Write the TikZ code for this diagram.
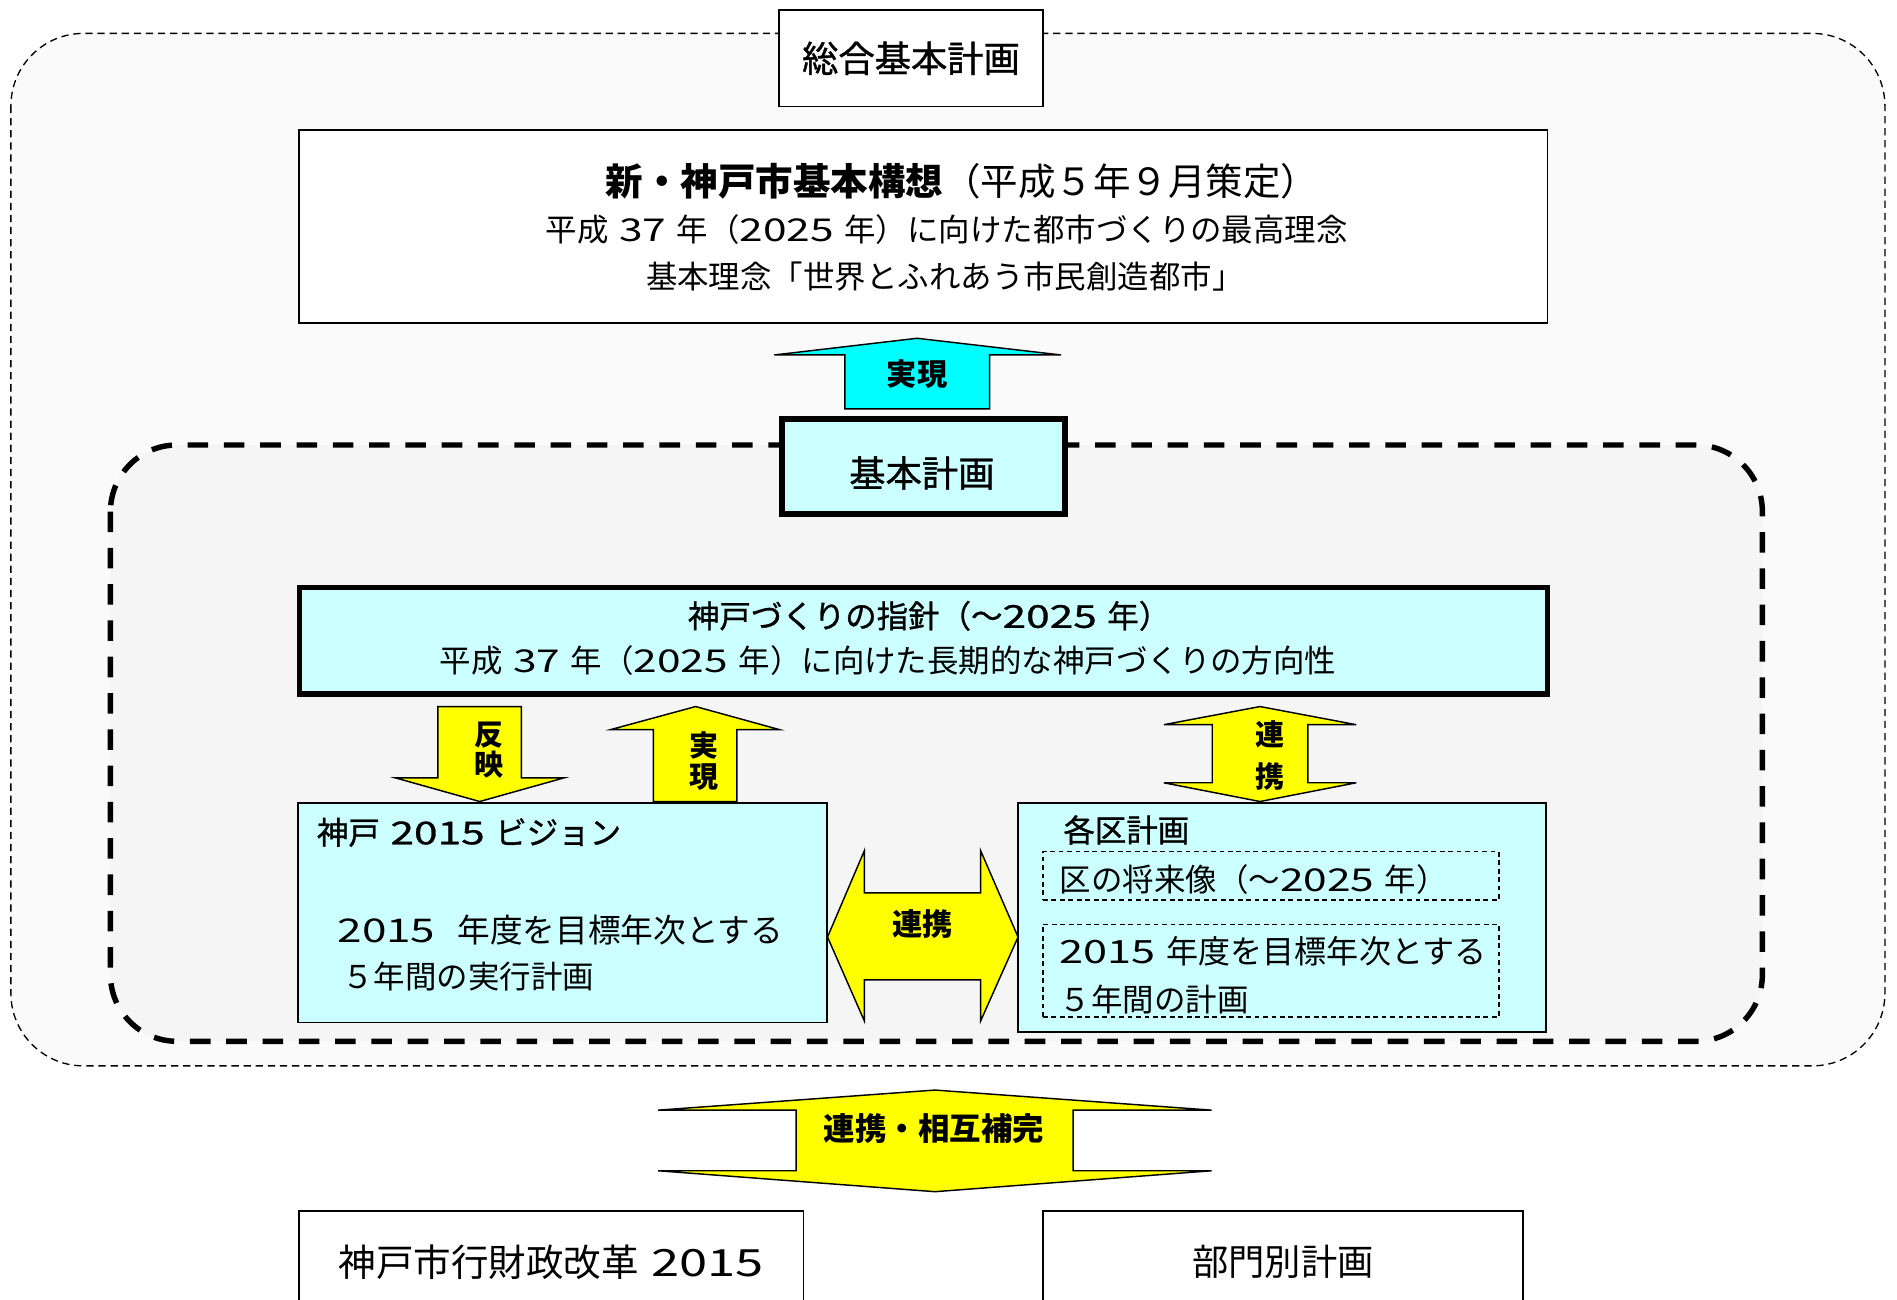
\documentclass[tikz,border=0pt]{standalone}
\usepackage{fontspec}
\setmainfont{Noto Sans CJK JP}[WordSpace=1.5]
\newfontfamily\jpmed{Noto Sans CJK JP}[WordSpace=1.5, FakeBold=1.0]
\newfontfamily\dg{Noto Sans CJK JP}[WordSpace=1.5, FakeStretch=1.35]
\newfontfamily\dgmed{Noto Sans CJK JP}[WordSpace=1.5, FakeStretch=1.35, FakeBold=1.0]
\newcommand\yr[1]{{\dg #1}}
\newcommand\yrmed[1]{{\dgmed #1}}
\definecolor{lightcyan}{HTML}{CCFFFF}
\definecolor{brightcyan}{HTML}{00FFFF}
\definecolor{brightyellow}{HTML}{FFFF00}
\begin{document}
\begin{tikzpicture}[
    x=1pt, y=-1pt,
    every node/.style={inner sep=0pt, outer sep=0pt},
    box/.style={draw=black, line width=1.3pt, fill=white, rectangle},
    cyanbox/.style={draw=black, line width=1.3pt, fill=lightcyan, rectangle},
    thickbox/.style={draw=black, line width=4.5pt, fill=lightcyan, rectangle},
    dashbox/.style={draw=black, line width=1.2pt, dash pattern=on 4pt off 3pt, rectangle},
    bigtext/.style={font=\jpmed\fontsize{30}{36}\selectfont},
    headtext/.style={font=\jpmed\fontsize{26}{30}\selectfont},
    bodytext/.style={font=\fontsize{26}{30}\selectfont},
    tagtext/.style={font=\bfseries\fontsize{25}{25}\selectfont, align=center},
    blockarrow/.style={draw=black, line width=1.2pt, line join=miter, fill=brightyellow}
]
\useasboundingbox (0,0) rectangle (1568,1074.5);

% outer frame
\draw[line width=1.1pt, dash pattern=on 6pt off 4pt, rounded corners=60pt, fill=black!2] (9,27.6) rectangle (1558,881);

\node[box, minimum width=218.6pt, minimum height=79.7pt, bigtext] (sogo) at (753,48.2) {総合基本計画};

\node[box, minimum width=1032pt, minimum height=159.6pt] (koso) at (763,187.2) {};
\node[font=\fontsize{31}{36}\selectfont] (koso1) at (795,150) {{\bfseries 新・神戸市基本構想}（平成５年９月策定）};
\node[bodytext] (koso2) at (782.5,189.5) {平成 \yr{37} 年（\yr{2025} 年）に向けた都市づくりの最高理念};
\node[bodytext] (koso3) at (781,228.7) {基本理念「世界とふれあう市民創造都市」};

\draw[blockarrow, fill=brightcyan] (698.4,338) -- (698.4,293.4) -- (640,293.4) -- (758,279.6) -- (877,293.4) -- (818,293.4) -- (818,338) -- cycle;
\node[tagtext] (jitsugen1) at (758,309) {実現};

% inner frame
\draw[line width=4.5pt, dash pattern=on 17pt off 13pt, rounded corners=55pt, fill=black!4] (91.3,367.8) rectangle (1456.7,860.7);

\node[thickbox, line width=5pt, minimum width=234pt, minimum height=78pt] (kihon) at (763.5,385.5) {};
\node[bigtext] (kihon1) at (762,391) {基本計画};

\node[thickbox, minimum width=1031.5pt, minimum height=88pt] (shishin) at (763.3,529.6) {};
\node[headtext] (shishin1) at (768,509) {神戸づくりの指針（～\yrmed{2025} 年）};
\node[bodytext] (shishin2) at (734,546) {平成 \yr{37} 年（\yr{2025} 年）に向けた長期的な神戸づくりの方向性};

\draw[blockarrow] (362,584) -- (431,584) -- (431,643) -- (466,643) -- (396.5,662.5) -- (327,643) -- (362,643) -- cycle;
\node[tagtext, font=\bfseries\fontsize{24}{25}\selectfont] (hanei) at (404,620) {反\\映};

\draw[blockarrow] (540,662.5) -- (540,603) -- (505,603) -- (575,584) -- (644,603) -- (609,603) -- (609,662.5) -- cycle;
\node[tagtext, font=\bfseries\fontsize{24}{25}\selectfont] (jitsugen2) at (582,629) {実\\現};

\draw[blockarrow] (1041.5,584) -- (1121,599) -- (1081,599) -- (1081,647) -- (1121,647) -- (1041.5,662.5) -- (962,647) -- (1002,647) -- (1002,599) -- (962,599) -- cycle;
\node[tagtext, font=\bfseries\fontsize{24}{35}\selectfont] (renkei1) at (1050,624.5) {連\\携};

\node[cyanbox, minimum width=437pt, minimum height=181.4pt] (vision) at (465,754.3) {};
\node[headtext, anchor=west] (vision1) at (262,688) {神戸 \yrmed{2015} ビジョン};
\node[bodytext, font=\fontsize{27}{30}\selectfont, anchor=west] (vision2) at (279,769) {\yr{2015}\ \ 年度を目標年次とする};
\node[bodytext, anchor=west] (vision3) at (283,807) {５年間の実行計画};

\draw[blockarrow] (684,774.5) -- (714.5,703) -- (714.5,738) -- (810.5,738) -- (810.5,703) -- (841.5,774.5) -- (810.5,844) -- (810.5,810) -- (714.5,810) -- (714.5,844) -- cycle;
\node[tagtext] (renkei2) at (762.6,763.5) {連携};

\node[cyanbox, minimum width=436.6pt, minimum height=189.4pt] (kuku) at (1059.7,758.3) {};
\node[headtext, anchor=west] (kuku1) at (879,686) {各区計画};
\node[dashbox, minimum width=377pt, minimum height=40pt] (shorai) at (1050.5,724) {};
\node[bodytext, anchor=west] (shorai1) at (876,727) {区の将来像（～\yr{2025} 年）};
\node[dashbox, minimum width=377pt, minimum height=76.5pt] (kukeikaku) at (1050.5,802.3) {};
\node[bodytext, font=\fontsize{26.5}{30}\selectfont, anchor=west] (kukeikaku1) at (876,786) {\yr{2015} 年度を目標年次とする};
\node[bodytext, anchor=west] (kukeikaku2) at (876,826) {５年間の計画};

\draw[blockarrow] (772.8,901) -- (1001.5,917.6) -- (887,917.6) -- (887,967.7) -- (1001.5,967.7) -- (772.8,985) -- (544,967.7) -- (658,967.7) -- (658,917.6) -- (544,917.6) -- cycle;
\node[tagtext, font=\bfseries\fontsize{26}{26}\selectfont] (hokan) at (772,933) {連携・相互補完};

\node[box, minimum width=417pt, minimum height=84.2pt, font=\fontsize{31}{36}\selectfont] (gyozai) at (455.5,1042.9) {神戸市行財政改革 \yr{2015}};
\node[box, minimum width=397pt, minimum height=84.2pt, font=\fontsize{30}{36}\selectfont] (bumon) at (1060.5,1042.9) {部門別計画};
\end{tikzpicture}
\end{document}
